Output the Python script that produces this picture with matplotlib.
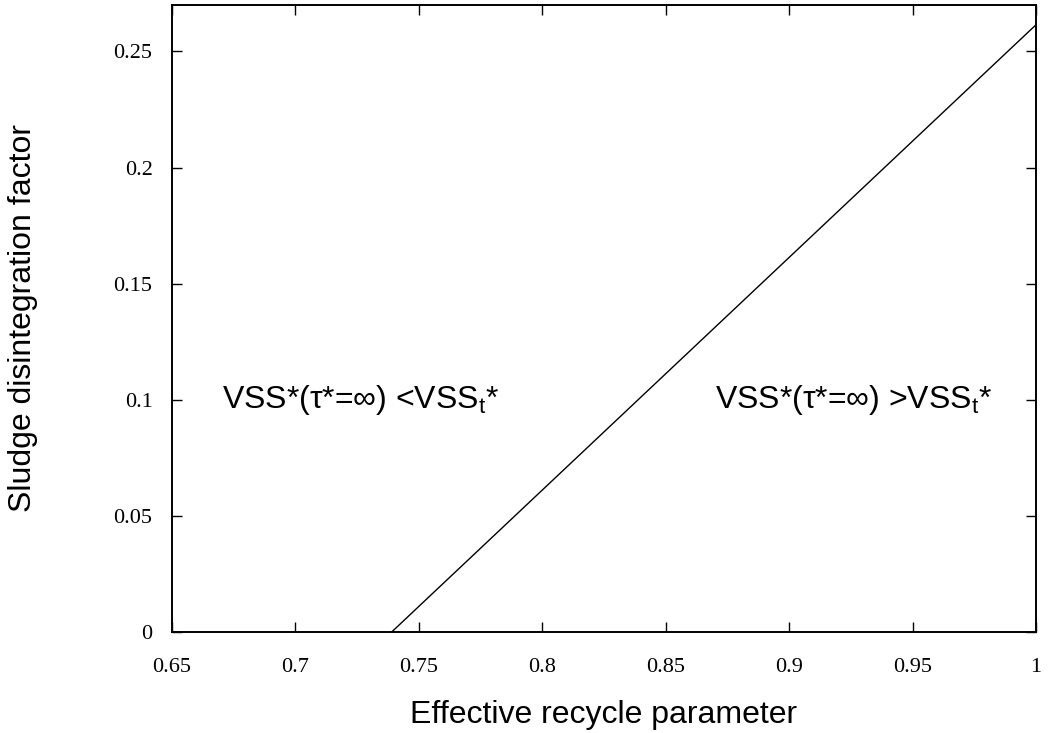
#!/usr/bin/env python3

import matplotlib
matplotlib.use("Agg")
import matplotlib.pyplot as plt

# boundary line between the two regimes
recycle = [0.739, 1.0]
disintegration = [0.0, 0.2615]

x_ticks = [0.65, 0.7, 0.75, 0.8, 0.85, 0.9, 0.95, 1.0]
x_ticklabels = ["0.65", "0.7", "0.75", "0.8", "0.85", "0.9", "0.95", "1"]
y_ticks = [0, 0.05, 0.1, 0.15, 0.2, 0.25]
y_ticklabels = ["0", "0.05", "0.1", "0.15", "0.2", "0.25"]

plt.rcParams["font.family"] = ["Liberation Sans", "DejaVu Sans"]

fig = plt.figure(figsize=(10.53, 7.33), dpi=100)
ax = fig.add_axes([0.1633, 0.1378, 0.8206, 0.8554])

ax.plot(recycle, disintegration, color="black", linewidth=1.0)

ax.set_xlim(0.65, 1.0)
ax.set_ylim(0, 0.27)
ax.set_xticks(x_ticks)
ax.set_xticklabels(x_ticklabels, family="Liberation Serif", fontsize=16)
ax.set_yticks(y_ticks)
ax.set_yticklabels(y_ticklabels, family="Liberation Serif", fontsize=16)
ax.tick_params(direction="in", length=7, width=1.0, top=True, right=True)
ax.tick_params(axis="x", pad=19)
ax.tick_params(axis="y", pad=14)

for sp in ax.spines.values():
    sp.set_linewidth(1.4)

ax.set_xlabel("Effective recycle parameter", fontsize=23)
ax.set_ylabel("Sludge disintegration factor", fontsize=23)
ax.xaxis.set_label_coords(0.5, -0.108)
ax.yaxis.set_label_coords(-0.155, 0.5)

ax.text(0.6703, 0.1, "VSS*(τ*=∞) <VSS$_\\mathregular{t}$*", fontsize=23, va="center", ha="left")
ax.text(0.87, 0.1, "VSS*(τ*=∞) >VSS$_\\mathregular{t}$*", fontsize=23, va="center", ha="left")

fig.savefig("out.png", dpi=100)
